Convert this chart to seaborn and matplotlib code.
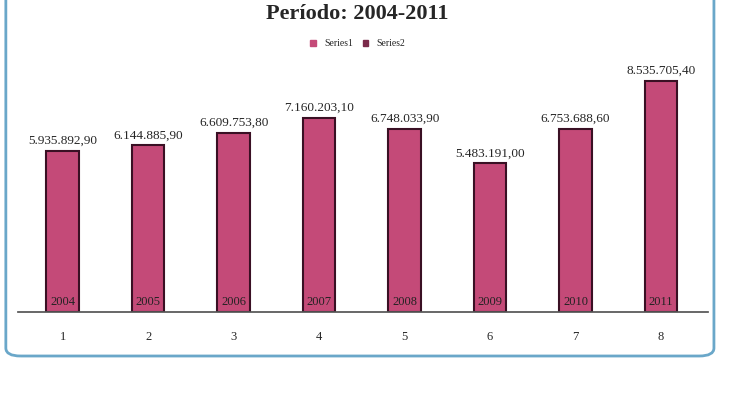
import matplotlib
matplotlib.use("Agg")
import matplotlib.pyplot as plt
import seaborn as sns
import pandas as pd
from matplotlib.patches import FancyBboxPatch, Patch

positions = ["1", "2", "3", "4", "5", "6", "7", "8"]
years = ["2004", "2005", "2006", "2007", "2008", "2009", "2010", "2011"]
values = [5935892.90, 6144885.90, 6609753.80, 7160203.10, 6748033.90, 5483191.00, 6753688.60, 8535705.40]

def fmt(v):
    s = f"{v:,.2f}"
    return s.replace(",", "X").replace(".", ",").replace("X", ".")

df = pd.DataFrame({"pos": positions, "val": values})
sns.set_theme(style="white")
plt.rcParams['font.family'] = ['Liberation Serif', 'DejaVu Serif']

fig = plt.figure(figsize=(7.3, 4.0), dpi=100)
fig.patch.set_facecolor("white")
fig.patches.append(FancyBboxPatch((0.008, 0.11), 0.97, 0.95, boxstyle="round,pad=0,rounding_size=0.02",
                                  transform=fig.transFigure, fill=False, edgecolor="#6aa7c9", linewidth=2))
ax = fig.add_axes([0.025, 0.22, 0.945, 0.63])
sns.barplot(data=df, x="pos", y="val", color="#c44a78", edgecolor="#3a1024", linewidth=1.5,
            width=0.38, saturation=1, ax=ax)
ax.set_ylim(0, 9.3e6)
ax.set_xlim(-0.52, 7.55)
for i, (v, y) in enumerate(zip(values, years)):
    ax.text(i, v + 1.5e5, fmt(v), ha="center", va="bottom", fontsize=9.5)
    ax.text(i, 0.15e6, y, ha="center", va="bottom", fontsize=9, color="#222")
ax.set_yticks([])
ax.set_xlabel(""); ax.set_ylabel("")
for s in ["top", "left", "right"]:
    ax.spines[s].set_visible(False)
ax.spines["bottom"].set_color("#555")
ax.tick_params(axis="x", labelsize=9, pad=8)
fig.text(0.49, 0.965, "Período: 2004-2011", ha="center", va="center", fontsize=16, fontweight="bold")
fig.legend(handles=[Patch(color="#c44a78", label="Series1"), Patch(color="#7a2a4a", label="Series2")],
           loc="center", bbox_to_anchor=(0.49, 0.89), ncol=2, frameon=False, fontsize=7,
           handlelength=0.6, handleheight=0.6, columnspacing=1)
fig.savefig("out.png", dpi=100)
